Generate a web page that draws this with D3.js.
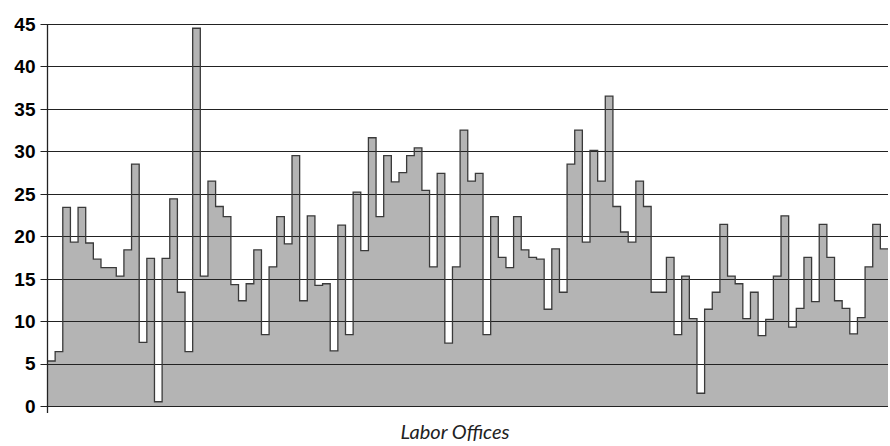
<!DOCTYPE html>
<html>
<head>
<meta charset="utf-8">
<script src="https://cdn.jsdelivr.net/npm/d3@7"></script>
<style>
  body { margin: 0; background: #fff; }
  .tick-label { font-family: "Liberation Sans", Arial, sans-serif; font-weight: bold; font-size: 19px; fill: #000; }
  .axis-title { font-family: Lato, "Open Sans", sans-serif; font-style: italic; font-size: 20px; fill: #222; }
</style>
</head>
<body>
<div id="chart"></div>
<script>
// Values, one per labor office (left to right)
let officeValues = [
  5.3, 6.4, 23.4, 19.3, 23.4, 19.2, 17.3, 16.3, 16.3, 15.3,
  18.4, 28.5, 7.5, 17.4, 0.5, 17.4, 24.4, 13.4, 6.4, 44.5,
  15.3, 26.5, 23.5, 22.3, 14.3, 12.4, 14.4, 18.4, 8.4, 16.4,
  22.3, 19.1, 29.5, 12.4, 22.4, 14.2, 14.4, 6.5, 21.3, 8.4,
  25.2, 18.3, 31.6, 22.3, 29.5, 26.4, 27.5, 29.5, 30.4, 25.4,
  16.4, 27.4, 7.4, 16.4, 32.5, 26.5, 27.4, 8.4, 22.3, 17.5,
  16.3, 22.3, 18.4, 17.5, 17.3, 11.4, 18.5, 13.4, 28.5, 32.5,
  19.3, 30.1, 26.5, 36.5, 23.5, 20.5, 19.3, 26.5, 23.5, 13.4,
  13.4, 17.5, 8.4, 15.3, 10.3, 1.5, 11.4, 13.4, 21.4, 15.3,
  14.4, 10.3, 13.4, 8.3, 10.2, 15.3, 22.4, 9.3, 11.5, 17.5,
  12.3, 21.4, 17.5, 12.4, 11.5, 8.5, 10.4, 16.4, 21.4, 18.5
];
let yTicks = [0, 5, 10, 15, 20, 25, 30, 35, 40, 45];
let xTitle = "Labor Offices";

let svgWidth = 890;
let svgHeight = 446;

let margin = { top: 24, right: 2, bottom: 40, left: 47.5 };
let width = svgWidth - margin.left - margin.right;
let height = svgHeight - margin.top - margin.bottom;

let svg = d3.select("#chart")
  .append("svg")
  .attr("width", svgWidth)
  .attr("height", svgHeight);

let chartGroup = svg.append("g")
  .attr("transform", `translate(${margin.left}, ${margin.top})`);

let xScale = d3.scaleLinear()
  .domain([0, officeValues.length])
  .range([0, width]);

let yScale = d3.scaleLinear()
  .domain([0, 45])
  .range([height, 0]);

// step points: each office spans [i, i+1]
let stepPoints = officeValues.map((v, i) => [i, v]);
stepPoints.push([officeValues.length, officeValues[officeValues.length - 1]]);

let area = d3.area()
  .x(d => xScale(d[0]))
  .y0(yScale(0))
  .y1(d => yScale(d[1]))
  .curve(d3.curveStepAfter);

let line = d3.line()
  .x(d => xScale(d[0]))
  .y(d => yScale(d[1]))
  .curve(d3.curveStepAfter);

// filled area
chartGroup.append("path")
  .datum(stepPoints)
  .attr("d", area)
  .attr("fill", "#b4b4b4");

// gridlines on top of the fill
chartGroup.append("g")
  .selectAll("line")
  .data(yTicks)
  .join("line")
  .attr("x1", -7)
  .attr("x2", width)
  .attr("y1", d => Math.round(yScale(d)) + 0.5)
  .attr("y2", d => Math.round(yScale(d)) + 0.5)
  .attr("stroke", "#222")
  .attr("stroke-width", 1.2);

// outline of the steps
chartGroup.append("path")
  .datum(stepPoints)
  .attr("d", line)
  .attr("fill", "none")
  .attr("stroke", "#3a3a3a")
  .attr("stroke-width", 1.3);

// y axis line
chartGroup.append("line")
  .attr("x1", 0)
  .attr("x2", 0)
  .attr("y1", yScale(45))
  .attr("y2", height + 7)
  .attr("stroke", "#222")
  .attr("stroke-width", 1.3);

// y tick labels
chartGroup.append("g")
  .selectAll("text")
  .data(yTicks)
  .join("text")
  .attr("class", "tick-label")
  .attr("x", -12)
  .attr("y", d => yScale(d))
  .attr("dy", "0.36em")
  .attr("text-anchor", "end")
  .text(d => d);

// x axis title
svg.append("text")
  .attr("class", "axis-title")
  .attr("x", 455)
  .attr("y", 439)
  .attr("text-anchor", "middle")
  .text(xTitle);
</script>
</body>
</html>
